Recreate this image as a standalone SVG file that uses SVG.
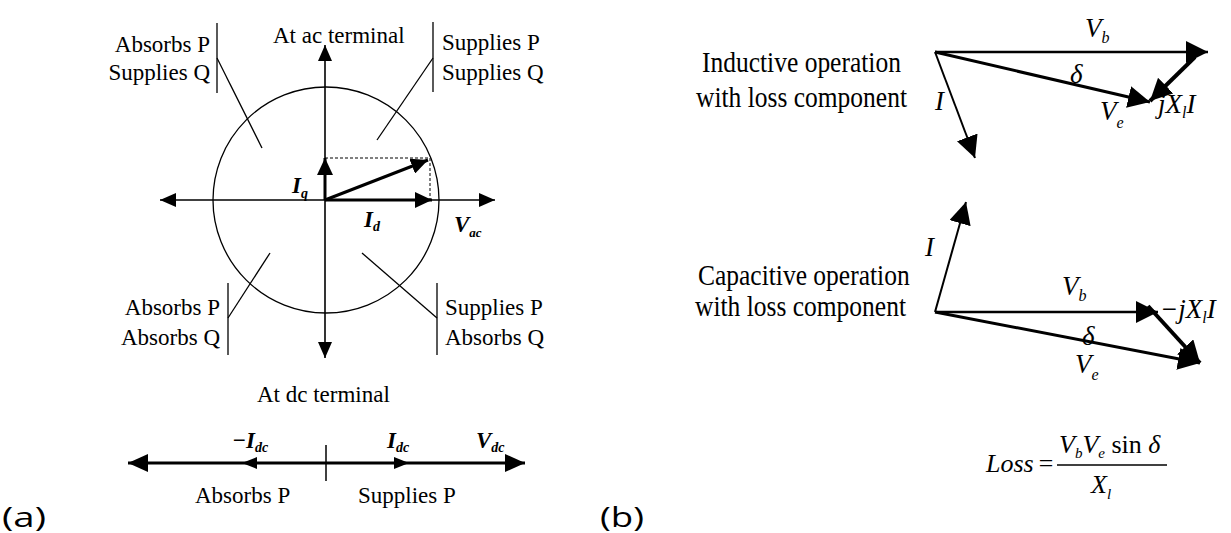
<svg xmlns="http://www.w3.org/2000/svg" width="1231" height="533" viewBox="0 0 1231 533">
<style>
.t{font-family:"Liberation Serif","Times New Roman",serif;font-size:23px;fill:#000}
.d{font-family:"Liberation Serif","Times New Roman",serif;font-size:25.5px;fill:#000}
.m{font-family:"Liberation Serif","Times New Roman",serif;font-style:italic;font-weight:bold;fill:#000}
.mi{font-family:"Liberation Serif","Times New Roman",serif;font-style:italic;fill:#000}
.p{font-family:"Open Sans","Noto Sans",sans-serif;font-size:27px;fill:#000}
.ln{stroke:#000;fill:none}
</style>
<defs>
<marker id="ax" viewBox="0 0 16 14" refX="16" refY="7" markerWidth="16" markerHeight="14" markerUnits="userSpaceOnUse" orient="auto-start-reverse"><path d="M0,0 L16,7 L0,14 z" fill="#000"/></marker>
<marker id="vec" viewBox="0 0 17 16" refX="17" refY="8" markerWidth="17" markerHeight="16" markerUnits="userSpaceOnUse" orient="auto"><path d="M0,0 L17,8 L0,16 z" fill="#000"/></marker>
<marker id="dc" viewBox="0 0 20 18" refX="20" refY="9" markerWidth="20" markerHeight="18" markerUnits="userSpaceOnUse" orient="auto-start-reverse"><path d="M0,0 L20,9 L0,18 z" fill="#000"/></marker>
<marker id="bv" viewBox="0 0 22 22" refX="22" refY="11" markerWidth="22" markerHeight="22" markerUnits="userSpaceOnUse" orient="auto"><path d="M0,0 L22,11 L0,22 z" fill="#000"/></marker>
</defs>
<rect width="1231" height="533" fill="#fff"/>

<!-- (a) -->
<g id="ac-circle"><circle cx="326" cy="200" r="113" class="ln" stroke-width="1.3"/></g>
<g id="connectors">
<line x1="160" y1="200" x2="495" y2="200" class="ln" stroke-width="1.6" marker-start="url(#ax)" marker-end="url(#ax)"/>
<line x1="325" y1="45" x2="325" y2="358" class="ln" stroke-width="1.6" marker-start="url(#ax)" marker-end="url(#ax)"/>
<line x1="325" y1="200" x2="325" y2="158" class="ln" stroke-width="3" marker-end="url(#vec)"/>
<line x1="325" y1="200" x2="432" y2="200" class="ln" stroke-width="3" marker-end="url(#vec)"/>
<line x1="325" y1="200" x2="428" y2="160" class="ln" stroke-width="3" marker-end="url(#vec)"/>
<polyline points="325,158 430,158 430,200" class="ln" stroke-width="1" stroke-dasharray="3 2"/>
<line x1="217" y1="23" x2="217" y2="93" class="ln" stroke-width="1.3"/>
<line x1="217" y1="58" x2="262" y2="148" class="ln" stroke-width="1.3"/>
<line x1="433" y1="22" x2="433" y2="92" class="ln" stroke-width="1.3"/>
<line x1="433" y1="58" x2="377" y2="140" class="ln" stroke-width="1.3"/>
<line x1="228" y1="283" x2="228" y2="355" class="ln" stroke-width="1.3"/>
<line x1="228" y1="318" x2="270" y2="253" class="ln" stroke-width="1.3"/>
<line x1="437" y1="283" x2="437" y2="355" class="ln" stroke-width="1.3"/>
<line x1="437" y1="318" x2="362" y2="253" class="ln" stroke-width="1.3"/>
<line x1="128" y1="463" x2="525" y2="463" class="ln" stroke-width="3" marker-start="url(#dc)" marker-end="url(#dc)"/>
<polygon points="242,463 257,457 257,469" fill="#000"/>
<polygon points="409,463 394,457 394,469" fill="#000"/>
<line x1="326" y1="445" x2="326" y2="481" class="ln" stroke-width="1.5"/>
<!-- (b) inductive -->
<line x1="935" y1="52" x2="1208" y2="52" class="ln" stroke-width="2.5" marker-end="url(#bv)"/>
<line x1="935" y1="52" x2="1150" y2="102" class="ln" stroke-width="3" marker-end="url(#bv)"/>
<line x1="1195" y1="57" x2="1150" y2="101" class="ln" stroke-width="4" marker-end="url(#bv)"/>
<line x1="935" y1="52" x2="975" y2="158" class="ln" stroke-width="2" marker-end="url(#bv)"/>
<!-- (b) capacitive -->
<line x1="935" y1="312" x2="966" y2="202" class="ln" stroke-width="2" marker-end="url(#bv)"/>
<line x1="935" y1="312" x2="1158" y2="312" class="ln" stroke-width="2.5" marker-end="url(#bv)"/>
<line x1="935" y1="312" x2="1200" y2="363" class="ln" stroke-width="3" marker-end="url(#bv)"/>
<line x1="1148" y1="306" x2="1200" y2="363" class="ln" stroke-width="4" marker-end="url(#bv)"/>
</g>

<g id="ac-labels">
<text class="t" x="273" y="43">At ac terminal</text>
<text class="t" x="210" y="52" text-anchor="end">Absorbs P</text>
<text class="t" x="210" y="80" text-anchor="end">Supplies Q</text>
<text class="t" x="442" y="50">Supplies P</text>
<text class="t" x="442" y="80">Supplies Q</text>
<text class="t" x="220" y="315" text-anchor="end">Absorbs P</text>
<text class="t" x="220" y="345" text-anchor="end">Absorbs Q</text>
<text class="t" x="445" y="315">Supplies P</text>
<text class="t" x="445" y="345">Absorbs Q</text>
<text class="m" x="292" y="193" font-size="23">I<tspan font-size="14" dy="5">q</tspan></text>
<text class="m" x="364" y="227" font-size="23">I<tspan font-size="14" dy="4">d</tspan></text>
<text class="m" x="454" y="232" font-size="23">V<tspan font-size="13" dy="5">ac</tspan></text>
</g>
<g id="dc-labels">
<text class="t" x="257" y="402">At dc terminal</text>
<text class="m" x="232" y="448" font-size="23">−I<tspan font-size="14" dy="4">dc</tspan></text>
<text class="m" x="387" y="448" font-size="23">I<tspan font-size="14" dy="4">dc</tspan></text>
<text class="m" x="476" y="448" font-size="23">V<tspan font-size="14" dy="4">dc</tspan></text>
<text class="t" x="195" y="503">Absorbs P</text>
<text class="t" x="358" y="503">Supplies P</text>
</g>
<text class="p" x="2" y="527" textLength="44" lengthAdjust="spacingAndGlyphs">(a)</text>

<!-- (b) -->
<g id="inductive">
<text class="d" transform="translate(702,72) scale(1,1.15)" x="0" y="0">Inductive operation</text>
<text class="d" transform="translate(696,107) scale(1,1.15)" x="0" y="0">with loss component</text>
<text class="mi" x="1085" y="37" font-size="27">V<tspan font-size="16" dy="6">b</tspan></text>
<text class="mi" x="1070" y="83" font-size="27">δ</text>
<text class="mi" x="1100" y="120" font-size="27">V<tspan font-size="16" dy="8">e</tspan></text>
<text class="mi" x="1158" y="113" font-size="27">jX<tspan font-size="16" dy="5">l</tspan><tspan dy="-5">I</tspan></text>
<text class="mi" x="935" y="110" font-size="27">I</text>
</g>
<g id="capacitive">
<text class="d" transform="translate(698,285) scale(1,1.15)" x="0" y="0">Capacitive operation</text>
<text class="d" transform="translate(695,316) scale(1,1.15)" x="0" y="0">with loss component</text>
<text class="mi" x="925" y="256" font-size="27">I</text>
<text class="mi" x="1062" y="295" font-size="27">V<tspan font-size="16" dy="6">b</tspan></text>
<text class="mi" x="1160" y="318" font-size="27">−jX<tspan font-size="16" dy="5">l</tspan><tspan dy="-5">I</tspan></text>
<text class="mi" x="1082" y="345" font-size="27">δ</text>
<text class="mi" x="1075" y="373" font-size="27">V<tspan font-size="16" dy="7">e</tspan></text>
</g>
<g id="loss">
<text class="mi" x="986" y="472" font-size="26">Loss</text>
<text class="mi" x="1037" y="472" font-size="26">=</text>
<line x1="1057" y1="465" x2="1167" y2="465" class="ln" stroke-width="1.3"/>
<text class="mi" x="1059" y="453" font-size="26">V<tspan font-size="15" dy="5">b</tspan><tspan dy="-5">V</tspan><tspan font-size="15" dy="5">e</tspan><tspan dy="-5" font-style="normal"> sin</tspan> δ</text>
<text class="mi" x="1091" y="493" font-size="26">X<tspan font-size="15" dy="6">l</tspan></text>
</g>
<text class="p" x="600" y="527" textLength="44" lengthAdjust="spacingAndGlyphs">(b)</text>
</svg>
